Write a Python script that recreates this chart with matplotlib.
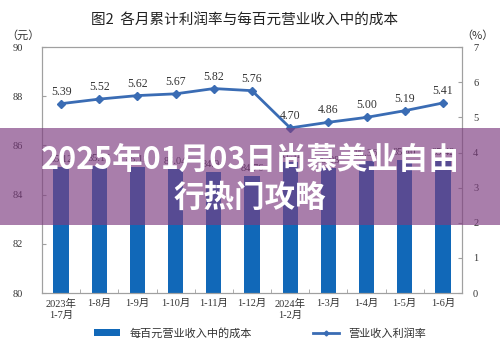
import matplotlib
matplotlib.use("Agg")
import matplotlib.pyplot as plt
from matplotlib.patches import Rectangle
from matplotlib.lines import Line2D
from matplotlib.patches import Patch

categories = ["2023年\n1-7月", "1-8月", "1-9月", "1-10月", "1-11月", "1-12月",
              "2024年\n1-2月", "1-3月", "1-4月", "1-5月", "1-6月"]
cost_per_100 = [85.12, 85.15, 85.11, 85.04, 84.94, 84.76, 85.31, 85.08, 85.36, 85.40, 85.42]
profit_rate = [5.39, 5.52, 5.62, 5.67, 5.82, 5.76, 4.70, 4.86, 5.00, 5.19, 5.41]
left_ticks = [80, 82, 84, 86, 88, 90]
right_ticks = [0, 1, 2, 3, 4, 5, 6, 7]

title = "图2  各月累计利润率与每百元营业收入中的成本"
bar_name = "每百元营业收入中的成本"
line_name = "营业收入利润率"
banner1 = "2025年01月03日尚慕美业自由"
banner2 = "行热门攻略"

serif = ["Liberation Serif", "Noto Sans CJK SC"]
cjk = ["Noto Sans CJK SC", "DejaVu Sans"]
plt.rcParams['font.family'] = serif

bar_color = "#1168b8"
line_color = "#3a6cb4"
spine_color = "#a0a0a0"
text_color = "#333333"

fig = plt.figure(figsize=(5.0, 3.54), dpi=100)
ax = fig.add_axes([0.084, 0.172, 0.84, 0.695])
x = list(range(len(categories)))

ax.bar(x, [v - 80 for v in cost_per_100], bottom=80, width=0.4, color=bar_color, zorder=2)
for xi, v in zip(x, cost_per_100):
    ax.text(xi, v + 0.12, f"{v:.2f}", ha="center", va="bottom", fontsize=7.5,
            color=text_color, family=serif)
ax.set_ylim(80, 90)
ax.set_xlim(-0.5, len(categories) - 0.5)
ax.set_yticks(left_ticks)
ax.set_yticklabels([str(t) for t in left_ticks], fontsize=7.5, color=text_color)
ax.set_xticks(x)
ax.set_xticklabels(categories, fontsize=7.5, color=text_color, family=serif, linespacing=1.3)
ax.tick_params(axis="x", length=0, pad=4)
ax.tick_params(axis="y", length=3, direction="in", color=spine_color, pad=14)
ax.set_xticks([i + 0.5 for i in x[:-1]], minor=True)
ax.tick_params(axis="x", which="minor", length=3, direction="in", color=spine_color)
for s in ax.spines.values():
    s.set_color(spine_color)
    s.set_linewidth(0.8)

ax2 = ax.twinx()
ax2.plot(x, profit_rate, color=line_color, lw=2, marker="D", markersize=4, zorder=3)
for xi, v in zip(x, profit_rate):
    ax2.text(xi, v + 0.17, f"{v:.2f}", ha="center", va="bottom", fontsize=8.5,
             color=text_color, family=serif)
ax2.set_ylim(0, 7)
ax2.set_yticks(right_ticks)
ax2.set_yticklabels([str(t) for t in right_ticks], fontsize=7.5, color=text_color)
ax2.tick_params(axis="y", length=3, direction="in", color=spine_color, pad=8)
for s in ax2.spines.values():
    s.set_color(spine_color)
    s.set_linewidth(0.8)

fig.text(0.49, 0.945, title, ha="center", va="center", fontsize=10.5, family=cjk, color="#222222")
fig.text(0.045, 0.9, "（元）", ha="center", va="center", fontsize=8, family=cjk, color=text_color)
fig.text(0.955, 0.9, "（%）", ha="center", va="center", fontsize=8, family=cjk, color=text_color)

handles = [Patch(facecolor=bar_color, label=bar_name),
           Line2D([0], [0], color=line_color, lw=2, marker="D", markersize=2.5, label=line_name)]
leg = fig.legend(handles=handles, loc="center", bbox_to_anchor=(0.52, 0.058), ncol=2,
                 frameon=False, columnspacing=5.5, handlelength=2.4, handleheight=0.6,
                 prop={"family": cjk, "size": 8})
for t in leg.get_texts():
    t.set_color(text_color)

fig.patches.append(Rectangle((0, 1 - 225 / 354), 1, 97 / 354, transform=fig.transFigure,
                             facecolor=(125 / 255, 60 / 255, 128 / 255), alpha=0.66,
                             edgecolor="none", zorder=10))
fig.text(0.5, 1 - 160 / 354, banner1, ha="center", va="center", fontsize=22,
         fontweight="bold", color="white", family=cjk, zorder=11)
fig.text(0.5, 1 - 198 / 354, banner2, ha="center", va="center", fontsize=22,
         fontweight="bold", color="white", family=cjk, zorder=11)

fig.savefig("out.png", dpi=100)
